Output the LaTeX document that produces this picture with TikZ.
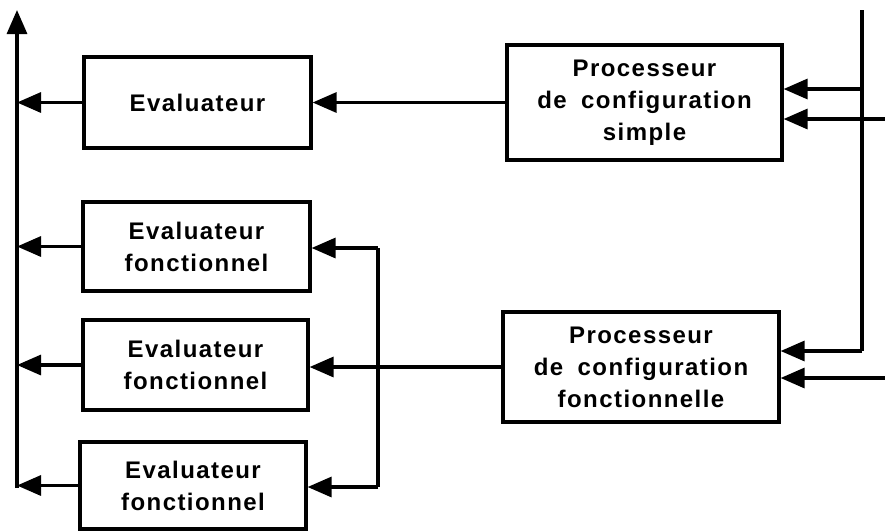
\documentclass[tikz,border=0pt]{standalone}
\usepackage{fontspec}
\setmainfont{Liberation Sans}[LetterSpace=6]
\usetikzlibrary{arrows.meta}
\begin{document}
\begin{tikzpicture}[x=1pt,y=-1pt,
  box/.style={draw,line width=3.2pt,rectangle,inner sep=0pt,align=center,
    font=\fontsize{24}{32}\selectfont\bfseries},
  wire/.style={line width=3.2pt},
  arr/.style={wire,-{Triangle[length=24pt,width=20pt]}},
  ]
\useasboundingbox (0,0) rectangle (885,531);
% boxes
\node[box,minimum width=227pt,minimum height=91pt] (eval) at (197.5,102.5) {Evaluateur};
\node[box,minimum width=275pt,minimum height=115pt] (pcs) at (644.5,102.5) {Processeur\\de\hspace{0.6em}configuration\\simple};
\node[box,minimum width=227pt,minimum height=89pt] (ef1) at (196.5,246.5) {Evaluateur\\fonctionnel};
\node[box,minimum width=225pt,minimum height=90pt] (ef2) at (195.5,365) {Evaluateur\\fonctionnel};
\node[box,minimum width=226pt,minimum height=87pt] (ef3) at (193,485.5) {Evaluateur\\fonctionnel};
\node[box,minimum width=276pt,minimum height=110pt] (pcf) at (641,367) {Processeur\\de\hspace{0.6em}configuration\\fonctionnelle};
% left output bus
\coordinate (ltop) at (17,10);
\coordinate (lbot) at (17,488);
\draw[arr] (lbot) -- (ltop);
\draw[arr] (eval.west) -- (eval.west -| ltop);
\draw[arr] (ef1.west) -- (ef1.west -| ltop);
\draw[arr] (ef2.west) -- (ef2.west -| ltop);
\draw[arr] (ef3.west) -- (ef3.west -| ltop);
% right input bus
\coordinate (rtop) at (862,10);
\coordinate (rcorner) at (862,351);
\coordinate (rb1) at (862,89);
\coordinate (in1) at (885,119);
\coordinate (in2) at (885,378);
\draw[wire] (rtop) -- (rcorner);
\draw[arr] (rcorner) -- (rcorner -| pcf.east);
\draw[arr] (rb1) -- (rb1 -| pcs.east);
\draw[arr] (in1) -- (in1 -| pcs.east);
\draw[arr] (in2) -- (in2 -| pcf.east);
% processor outputs
\draw[arr] (pcs.west) -- (pcs.west -| eval.east);
\draw[arr] (pcf.west) -- (pcf.west -| ef2.east);
% distribution to functional evaluators
\coordinate (dtop) at (378,248);
\coordinate (dbot) at (378,487);
\draw[wire] (dtop) -- (dbot);
\draw[arr] (dtop) -- (dtop -| ef1.east);
\draw[arr] (dbot) -- (dbot -| ef3.east);
\end{tikzpicture}
\end{document}
